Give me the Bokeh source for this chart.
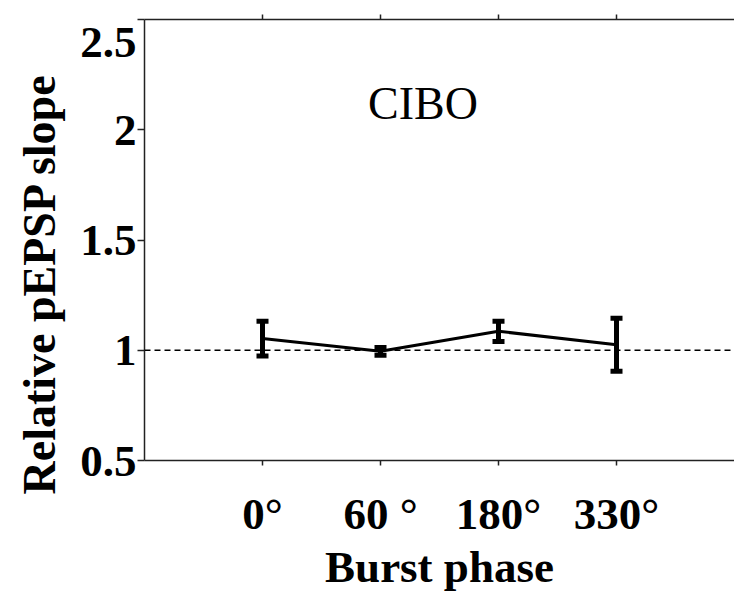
from bokeh.plotting import figure
from bokeh.models import (LinearAxis, FixedTicker, Range1d, Whisker, TeeHead,
                          ColumnDataSource, Span, Label, Title)
from bokeh.embed import file_html
from bokeh.resources import INLINE

# ---- data ----
phases = ["0°", "60 °", "180°", "330°"]
means = [1.053, 0.995, 1.086, 1.025]
errs = [0.079, 0.018, 0.046, 0.120]
ytick_vals = [0.5, 1, 1.5, 2, 2.5]
ytick_labels = ["0.5", "1", "1.5", "2", "\n2.5"]
baseline = 1.0
panel_title = "CIBO"
x_title = "Burst phase"
y_title = "Relative pEPSP slope"

xpos = list(range(1, len(phases) + 1))

FONT = "Liberation Serif"
FS = "45px"

p = figure(width=734, height=594, x_range=Range1d(0, len(phases) + 1),
           y_range=Range1d(0.5, 2.5), output_backend="svg",
           toolbar_location=None, min_border_left=144, min_border_right=0,
           min_border_top=19, min_border_bottom=131)
p.outline_line_color = None
p.xgrid.visible = False
p.ygrid.visible = False
p.background_fill_color = "white"

xt = FixedTicker(ticks=xpos)
yt = FixedTicker(ticks=ytick_vals)

def style(ax, out):
    ax.axis_line_color = "#222222"
    ax.axis_line_width = 1.5
    ax.major_tick_line_color = "#222222"
    ax.major_tick_line_width = 1.5
    ax.major_tick_in = 0
    ax.major_tick_out = out
    ax.minor_tick_line_color = None
    ax.major_label_text_font = FONT
    ax.major_label_text_font_size = FS
    ax.major_label_text_font_style = "bold"
    ax.major_label_text_color = "black"

xa = p.xaxis[0]
xa.ticker = xt
xa.major_label_overrides = {x: lab for x, lab in zip(xpos, phases)}
style(xa, 5)
xa.major_label_standoff = 23
xa.axis_label = x_title
xa.axis_label_text_font = FONT
xa.axis_label_text_font_size = FS
xa.axis_label_text_font_style = "bold"
xa.axis_label_text_color = "black"
xa.axis_label_standoff = 0

ya = p.yaxis[0]
ya.ticker = yt
ya.major_label_overrides = {v: lab for v, lab in zip(ytick_vals, ytick_labels)}
style(ya, 7)
ya.major_label_standoff = 1
ya.major_label_text_line_height = 0.32

top = LinearAxis(ticker=xt, major_label_overrides={x: "" for x in xpos})
style(top, 5)
p.add_layout(top, "above")

# y title, placed like the original (starting a little below the frame bottom)
p.add_layout(Title(text=y_title, align="left", offset=-34, vertical_align="top",
                   text_font=FONT, text_font_size="46px", text_font_style="bold",
                   text_color="black", standoff=22), "left")

p.add_layout(Span(location=baseline, dimension="width", line_color="black",
                  line_width=1.5, line_dash="6 4"))

p.line(xpos, means, line_color="black", line_width=3)

src = ColumnDataSource(dict(base=xpos,
                            upper=[m + e for m, e in zip(means, errs)],
                            lower=[m - e for m, e in zip(means, errs)]))
p.add_layout(Whisker(source=src, base="base", upper="upper", lower="lower",
                     line_color="black", line_width=5,
                     upper_head=TeeHead(size=12, line_width=5, line_color="black"),
                     lower_head=TeeHead(size=12, line_width=5, line_color="black")))

p.add_layout(Label(x=2.36, y=2.12, text=panel_title, text_font=FONT,
                   text_font_size="46px", text_align="center",
                   text_baseline="middle", text_color="black"))

open("out.html", "w").write(file_html(p, INLINE))
